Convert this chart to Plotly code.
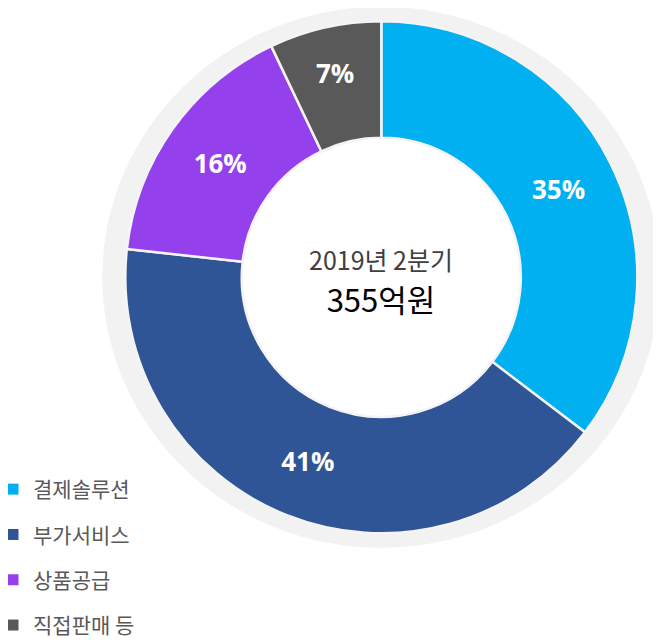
import plotly.graph_objects as go

categories = ["결제솔루션", "부가서비스", "상품공급", "직접판매 등"]
shares = [35, 41, 16, 7]
colors = ["#00B0F0", "#2F5597", "#9440ED", "#595959"]
center_title = "2019년 2분기"
center_value = "355억원"

# page has an 8px body margin; figure fills the rest of the 661x640 window
W, H = 653, 632
OFF = 8
cx, cy = 381.3 - OFF, 277.3 - OFF
r_out = 256.0
ring_rx, ring_ry = 279.0, 270.5
hole_ratio = 0.545

def px(x):
    return x / W

def py(y):
    return 1 - y / H

fig = go.Figure()

# light grey outer ring (slightly elliptical), drawn as shapes below the pie
fig.add_shape(type="circle", xref="paper", yref="paper", layer="below",
              x0=px(cx - ring_rx), x1=px(cx + ring_rx),
              y0=py(cy + ring_ry), y1=py(cy - ring_ry),
              fillcolor="#F2F2F2", line=dict(width=0))
fig.add_shape(type="circle", xref="paper", yref="paper", layer="below",
              x0=px(cx - 200), x1=px(cx + 200),
              y0=py(cy + 200), y1=py(cy - 200),
              fillcolor="white", line=dict(width=0))

fig.add_trace(go.Pie(
    values=shares, labels=categories,
    domain=dict(x=[px(cx - r_out), px(cx + r_out)], y=[py(cy + r_out), py(cy - r_out)]),
    hole=hole_ratio, sort=False, direction="clockwise", rotation=0,
    marker=dict(colors=colors, line=dict(color="#F4F4F4", width=2.5)),
    texttemplate="<b>%{value}%</b>", textposition="inside",
    insidetextorientation="horizontal",
    textfont=dict(family="Open Sans, Noto Sans CJK KR", size=26, color="white"),
    showlegend=False,
))

# legend entries
for i, (name, col) in enumerate(zip(categories, colors)):
    fig.add_trace(go.Scatter(
        x=[None], y=[None], mode="markers", name=name,
        marker=dict(symbol="square", size=11, color=col),
        legendgroup=f"g{i}", showlegend=True,
    ))

center_text = (f"<span style='font-size:25px;color:#404040'>{center_title}</span>"
               f"<br><span style='font-size:31px;color:#000000'>{center_value}</span>")
fig.add_annotation(x=px(cx), y=py(281 - OFF), xref="paper", yref="paper",
                   text=center_text, showarrow=False, align="center",
                   font=dict(family="Noto Sans CJK KR", size=32, color="#000000"))

fig.update_layout(
    width=W, height=H, margin=dict(l=0, r=0, t=0, b=0, autoexpand=False),
    paper_bgcolor="white", plot_bgcolor="rgba(0,0,0,0)",
    xaxis=dict(visible=False), yaxis=dict(visible=False),
    legend=dict(x=-15 / W, y=-6 / H, xanchor="left", yanchor="bottom",
                font=dict(family="Noto Sans CJK KR", size=21, color="#595959"),
                tracegroupgap=15, itemwidth=30, bgcolor="rgba(0,0,0,0)"),
)

fig.write_html("out.html")
